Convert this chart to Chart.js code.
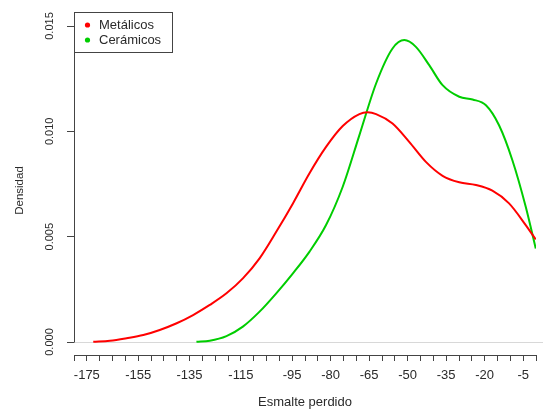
<!DOCTYPE html>
<html>
<head>
<meta charset="utf-8">
<script src="https://cdn.jsdelivr.net/npm/chart.js@4"></script>
<style>
html,body{margin:0;padding:0;background:#fff;overflow:hidden;}
canvas{display:block;}
</style>
</head>
<body>
<canvas id="c" width="543" height="409"></canvas>
<script>
// ---- data ----
const seriesNames = ["Metálicos", "Cerámicos"];
const metalX = [-172.5,-166,-159.5,-153,-146.6,-140,-133.6,-127.1,-120.6,-114.2,-107.7,-101.2,-94.7,-88.3,-81.8,-75.3,-68.8,-65.6,-62.3,-55.9,-49.4,-42.9,-36.4,-29.9,-23.4,-17,-10.5,-4,-0.1];
const metalY = [0.00001,0.00006,0.00018,0.00033,0.00057,0.00089,0.00128,0.00176,0.00231,0.00302,0.00397,0.00523,0.00658,0.00800,0.00926,0.01025,0.01082,0.01090,0.01082,0.01037,0.00950,0.00855,0.00789,0.00758,0.00745,0.00718,0.00658,0.00555,0.00487];
const ceramX = [-132.3,-127.1,-120.6,-114.2,-107.7,-101.2,-94.7,-88.3,-81.8,-75.3,-68.8,-62.3,-55.9,-51.3,-46.8,-41.6,-36.4,-29.9,-24.7,-19.5,-14.4,-9.2,-4,-0.1];
const ceramY = [0.00001,0.00006,0.00028,0.00073,0.00144,0.00231,0.00326,0.00428,0.00555,0.00737,0.00982,0.01227,0.01393,0.01433,0.01401,0.01314,0.01219,0.01164,0.01151,0.01124,0.01029,0.00863,0.00642,0.00444];
const xTickLabels = [-175,-155,-135,-115,-95,-80,-65,-50,-35,-20,-5];
const yTickValues = [0, 0.005, 0.010, 0.015];
const seriesColors = ["#ff0000", "#00cd00"];

const FONT = "'Liberation Sans', Arial, sans-serif";
const TEXT = '#2a2a2a';
const toPts = (xs, ys) => xs.map((x, i) => ({x: x, y: ys[i]}));

const decor = {
  id: 'decor',
  beforeDatasetsDraw(chart) {
    const ctx = chart.ctx, ys = chart.scales.y;
    const y0 = Math.round(ys.getPixelForValue(0)) + 0.5;
    ctx.save();
    ctx.strokeStyle = '#d8d8d8';
    ctx.lineWidth = 1;
    ctx.beginPath();
    ctx.moveTo(chart.chartArea.left, y0);
    ctx.lineTo(chart.width, y0);
    ctx.stroke();
    const yTop = ys.getPixelForValue(yTickValues[yTickValues.length - 1]);
    const xl = Math.round(chart.chartArea.left) + 0.5;
    ctx.strokeStyle = '#444';
    ctx.beginPath();
    ctx.moveTo(xl, yTop);
    ctx.lineTo(xl, y0);
    ctx.stroke();
    ctx.restore();
  },
  afterDraw(chart) {
    const ctx = chart.ctx;
    ctx.save();
    ctx.fillStyle = '#fff';
    ctx.fillRect(74.5, 12.5, 98, 40);
    ctx.strokeStyle = '#444';
    ctx.lineWidth = 1;
    ctx.strokeRect(74.5, 12.5, 98, 40);
    ctx.font = '13px ' + FONT;
    ctx.textBaseline = 'middle';
    chart.data.datasets.forEach((ds, i) => {
      const yy = 25 + i * 15;
      ctx.fillStyle = ds.borderColor;
      ctx.beginPath();
      ctx.arc(87.5, yy, 2.6, 0, Math.PI * 2);
      ctx.fill();
      ctx.fillStyle = TEXT;
      ctx.fillText(ds.label, 99, yy + 0.5);
    });
    ctx.restore();
  }
};

new Chart(document.getElementById('c'), {
  type: 'line',
  data: {
    datasets: [
      {label: seriesNames[0], data: toPts(metalX, metalY), borderColor: seriesColors[0], backgroundColor: seriesColors[0], borderWidth: 2, pointRadius: 0, cubicInterpolationMode: 'monotone', fill: false},
      {label: seriesNames[1], data: toPts(ceramX, ceramY), borderColor: seriesColors[1], backgroundColor: seriesColors[1], borderWidth: 2, pointRadius: 0, cubicInterpolationMode: 'monotone', fill: false}
    ]
  },
  options: {
    responsive: false,
    animation: false,
    devicePixelRatio: 1,
    layout: {padding: {top: 26, right: 6, left: 0, bottom: 0}},
    plugins: {legend: {display: false}, tooltip: {enabled: false}},
    scales: {
      x: {
        type: 'linear',
        min: -180, max: 0,
        afterFit(s) { s.height = 54; },
        ticks: {
          stepSize: 5, autoSkip: false, maxRotation: 0, minRotation: 0,
          padding: 7, color: TEXT, font: {family: FONT, size: 13},
          callback: v => xTickLabels.includes(v) ? String(v) : ''
        },
        grid: {drawOnChartArea: false, drawTicks: true, tickLength: 6, color: '#444'},
        border: {display: true, color: '#444'},
        title: {display: true, text: 'Esmalte perdido', color: TEXT, font: {family: FONT, size: 13, lineHeight: 1}, padding: {top: 0, bottom: 0}}
      },
      y: {
        type: 'linear',
        min: -0.000617, max: 0.015,
        afterFit(s) { s.width = 74; },
        afterBuildTicks(s) { s.ticks = yTickValues.map(v => ({value: v})); },
        ticks: {
          minRotation: 90, maxRotation: 90, crossAlign: 'center',
          padding: 3, color: TEXT, font: {family: FONT, size: 11},
          callback: v => Number(v).toFixed(3)
        },
        grid: {drawOnChartArea: false, drawTicks: true, tickLength: 7, color: '#444'},
        border: {display: false},
        title: {display: true, text: 'Densidad', color: TEXT, font: {family: FONT, size: 11.5}, padding: {top: 13, bottom: 0}}
      }
    }
  },
  plugins: [decor]
});
</script>
</body>
</html>
